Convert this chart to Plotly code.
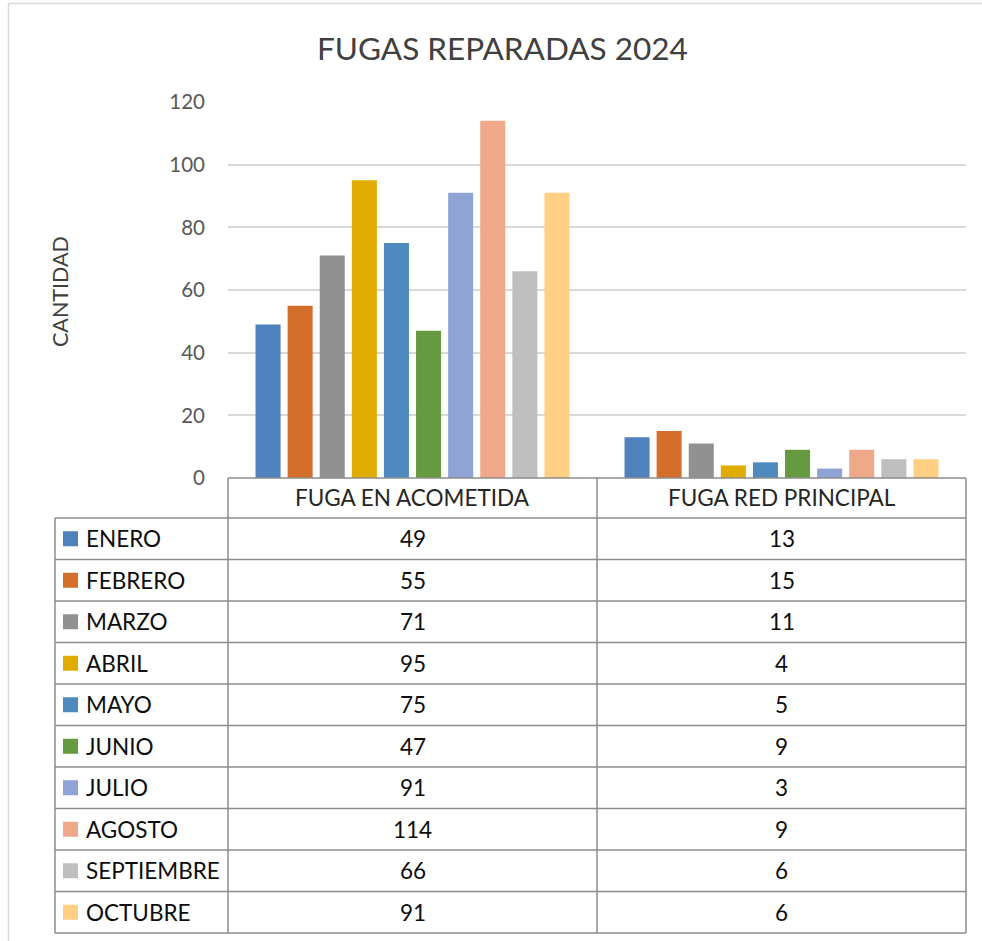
import plotly.graph_objects as go

categories = ["FUGA EN ACOMETIDA", "FUGA RED PRINCIPAL"]
months = ["ENERO", "FEBRERO", "MARZO", "ABRIL", "MAYO", "JUNIO",
          "JULIO", "AGOSTO", "SEPTIEMBRE", "OCTUBRE"]
acometida = [49, 55, 71, 95, 75, 47, 91, 114, 66, 91]
red_principal = [13, 15, 11, 4, 5, 9, 3, 9, 6, 6]
colors = ["#4F81BD", "#D46F2B", "#919191", "#E0AC00", "#4F8ABE",
          "#659A41", "#8FA4D5", "#F0A88A", "#BFBFBF", "#FFD084"]
y_ticks = [0, 20, 40, 60, 80, 100, 120]

W, H = 982, 941
FONT = "Lato"

def px(x):
    return x / W

def py(y):
    return 1 - y / H

fig = go.Figure()
for i, m in enumerate(months):
    fig.add_trace(go.Bar(
        x=categories, y=[acometida[i], red_principal[i]], name=m,
        marker=dict(color=colors[i], line=dict(width=0)),
        showlegend=False,
    ))

shapes = []
annotations = []
GRID = "#8C8C8C"

# chart border (top & left)
shapes.append(dict(type="line", xref="paper", yref="paper",
                   x0=px(8.5), x1=px(982), y0=py(3.5), y1=py(3.5),
                   line=dict(color="#D9D9D9", width=1.5)))
shapes.append(dict(type="line", xref="paper", yref="paper",
                   x0=px(8.5), x1=px(8.5), y0=py(3.5), y1=py(941),
                   line=dict(color="#D9D9D9", width=1.5)))

# table geometry
x_left, x_c1, x_c2, x_right = 55, 228, 597, 966
y_head_top, y_head_bot = 478, 518
row_h = (933 - 518) / len(months)
rows_y = [y_head_bot + k * row_h for k in range(len(months) + 1)]

def hline(x0, x1, y):
    shapes.append(dict(type="line", xref="paper", yref="paper",
                       x0=px(x0), x1=px(x1), y0=py(y), y1=py(y),
                       line=dict(color=GRID, width=1.5)))

def vline(x, y0, y1):
    shapes.append(dict(type="line", xref="paper", yref="paper",
                       x0=px(x), x1=px(x), y0=py(y0), y1=py(y1),
                       line=dict(color=GRID, width=1.5)))

hline(x_c1, x_right, y_head_top)
for y in rows_y:
    hline(x_left, x_right, y)
vline(x_left, y_head_bot, rows_y[-1])
vline(x_c1, y_head_top, rows_y[-1])
vline(x_c2, y_head_top, rows_y[-1])
vline(x_right, y_head_top, rows_y[-1])

col_centers = [(x_c1 + x_c2) / 2, (x_c2 + x_right) / 2]
for j, c in enumerate(categories):
    annotations.append(dict(xref="paper", yref="paper", x=px(col_centers[j]),
                            y=py((y_head_top + y_head_bot) / 2), text=c,
                            showarrow=False, xanchor="center", yanchor="middle",
                            font=dict(family=FONT, size=22.5, color="#262626")))

series = [acometida, red_principal]
for i, m in enumerate(months):
    yc = (rows_y[i] + rows_y[i + 1]) / 2
    shapes.append(dict(type="rect", xref="paper", yref="paper",
                       x0=px(63), x1=px(78), y0=py(yc - 7.5), y1=py(yc + 7.5),
                       fillcolor=colors[i], line=dict(width=0)))
    annotations.append(dict(xref="paper", yref="paper", x=px(84), y=py(yc),
                            text=m, showarrow=False, xanchor="left", yanchor="middle",
                            font=dict(family=FONT, size=22.5, color="#0D0D0D")))
    for j in range(2):
        annotations.append(dict(xref="paper", yref="paper", x=px(col_centers[j]),
                                y=py(yc), text=str(series[j][i]), showarrow=False,
                                xanchor="center", yanchor="middle",
                                font=dict(family=FONT, size=22.5, color="#0D0D0D")))

# title and axis title
annotations.append(dict(xref="paper", yref="paper", x=px(502), y=py(48),
                        text="FUGAS REPARADAS 2024", showarrow=False,
                        xanchor="center", yanchor="middle",
                        font=dict(family=FONT, size=31.5, color="#404040")))
annotations.append(dict(xref="paper", yref="paper", x=px(60), y=py(292),
                        text="CANTIDAD", showarrow=False, textangle=-90,
                        xanchor="center", yanchor="middle",
                        font=dict(family=FONT, size=21.5, color="#404040")))

fig.update_layout(
    width=W, height=H,
    margin=dict(l=0, r=0, t=0, b=0, pad=0, autoexpand=False),
    paper_bgcolor="white", plot_bgcolor="white",
    barmode="group", bargap=0.13, bargroupgap=0.22,
    showlegend=False,
    xaxis=dict(domain=[px(228), px(966)], range=[-0.5, 1.5], automargin=False,
               showticklabels=False, showgrid=False, zeroline=False,
               showline=False, ticks=""),
    yaxis=dict(domain=[py(478), py(102)], range=[0, 120], automargin=False,
               tickvals=y_ticks, showgrid=True, gridcolor="#D9D9D9",
               gridwidth=1.5, zeroline=False, showline=False,
               ticks="", ticklabelstandoff=22,
               tickfont=dict(family=FONT, size=20.5, color="#595959")),
    shapes=shapes, annotations=annotations,
)

fig.write_html("out.html", config={"displayModeBar": False},
               post_script="document.body.style.margin='0';document.body.style.overflow='hidden';")
